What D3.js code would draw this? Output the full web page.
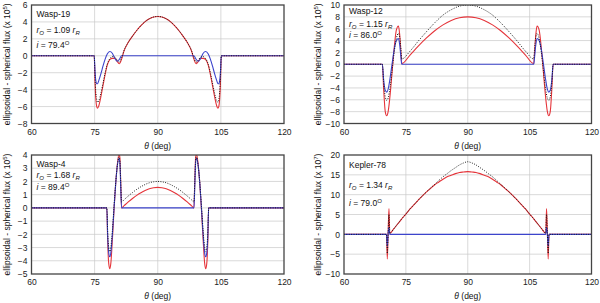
<!DOCTYPE html>
<html>
<head>
<meta charset="utf-8">
<script src="https://cdn.jsdelivr.net/npm/d3@7"></script>
<style>
  body { margin: 0; background: #fff; }
  svg { display: block; font-family: "Liberation Sans", Arial, sans-serif; }
  .grid line { stroke: #c8c8c8; stroke-width: 0.7; }
  .tick-label { font-size: 8.5px; fill: #222; }
</style>
</head>
<body>
<div id="chart"></div>
<script>
// shared x ticks
var xTicks = [60, 75, 90, 105, 120];

// Wasp-19
var theta19 = [60, 74.9, 75.1, 75.3, 75.5, 75.7, 76, 76.5, 77, 77.5, 78, 78.6, 79.2, 79.8, 80.4, 80.9, 81.4, 82, 83, 84, 85, 86, 87, 88, 89, 90,
  91, 92, 93, 94, 95, 96, 97, 98, 98.6, 99.1, 99.6, 100.2, 100.8, 101.4, 102, 102.5, 103, 103.5, 104, 104.3, 104.5, 104.7, 104.9, 105.1, 120];
var red19 = [0, 0, -3.2, -5.2, -6.0, -6.2, -5.9, -4.8, -3.5, -2.2, -1.1, -0.45, -0.3, -0.3, -0.7, -0.94, -0.4, 0.6, 1.59, 2.33, 2.99, 3.56, 4.03, 4.37, 4.58, 4.65,
  4.58, 4.37, 4.03, 3.56, 2.99, 2.33, 1.59, 0.6, -0.4, -0.94, -0.7, -0.3, -0.3, -0.45, -1.1, -2.2, -3.5, -4.8, -5.9, -6.2, -6.0, -5.2, -3.2, 0, 0];
var black19 = [0, 0, -2.6, -4.4, -5.2, -5.5, -5.3, -4.4, -3.2, -2.0, -1.0, -0.35, -0.1, -0.15, -0.55, -0.75, -0.25, 0.65, 1.59, 2.33, 2.99, 3.56, 4.03, 4.37, 4.58, 4.65,
  4.58, 4.37, 4.03, 3.56, 2.99, 2.33, 1.59, 0.65, -0.25, -0.75, -0.55, -0.15, -0.1, -0.35, -1.0, -2.0, -3.2, -4.4, -5.3, -5.5, -5.2, -4.4, -2.6, 0, 0];
var blue19 = [0, 0, -1.9, -3.0, -3.3, -3.3, -2.9, -2.1, -1.2, -0.4, 0.2, 0.5, 0.3, -0.3, -0.65, -0.4, 0, 0, 0, 0, 0, 0, 0, 0, 0, 0,
  0, 0, 0, 0, 0, 0, 0, 0, 0, -0.4, -0.65, -0.3, 0.3, 0.5, 0.2, -0.4, -1.2, -2.1, -2.9, -3.3, -3.3, -3.0, -1.9, 0, 0];
var yTicks19 = [-8, -6, -4, -2, 0, 2, 4, 6];

// Wasp-12
var theta12 = [60, 69.3, 69.6, 70.0, 70.35, 70.7, 71.2, 71.7, 72.2, 72.7, 73.2, 73.5, 73.8, 74.0, 76, 78, 80, 82, 84, 86, 88, 90,
  92, 94, 96, 98, 100, 102, 104, 106.0, 106.2, 106.5, 106.8, 107.3, 107.8, 108.3, 108.8, 109.3, 109.65, 110.0, 110.4, 110.7, 120];
var red12 = [0, 0, -4.0, -8.0, -8.7, -8.0, -5.0, -1.0, 3.0, 5.8, 6.45, 5.0, 2.0, 0.1, 1.56, 3.06, 4.44, 5.66, 6.65, 7.39, 7.85, 8.0,
  7.85, 7.39, 6.65, 5.66, 4.44, 3.06, 1.56, 0.1, 2.0, 5.0, 6.45, 5.8, 3.0, -1.0, -5.0, -8.0, -8.7, -8.0, -4.0, 0, 0];
var black12 = [0, 0, -3.0, -5.5, -6.1, -5.7, -3.8, -0.8, 2.2, 4.4, 5.2, 4.6, 2.6, 0.9, 2.2, 3.9, 5.5, 7.0, 8.3, 9.2, 9.8, 10.0,
  9.8, 9.2, 8.3, 7.0, 5.5, 3.9, 2.2, 0.9, 2.6, 4.6, 5.2, 4.4, 2.2, -0.8, -3.8, -5.7, -6.1, -5.5, -3.0, 0, 0];
var blue12 = [0, 0, -2.5, -4.4, -4.7, -4.2, -2.2, 0.3, 2.6, 4.0, 4.35, 3.3, 1.2, 0, 0, 0, 0, 0, 0, 0, 0, 0,
  0, 0, 0, 0, 0, 0, 0, 0, 1.2, 3.3, 4.35, 4.0, 2.6, 0.3, -2.2, -4.2, -4.7, -4.4, -2.5, 0, 0];
var yTicks12 = [-10, -8, -6, -4, -2, 0, 2, 4, 6, 8, 10];

// Wasp-4
var theta4 = [60, 77.9, 78.1, 78.35, 78.6, 78.85, 79.2, 79.6, 80.0, 80.4, 80.8, 81.0, 81.2, 81.4, 82, 83, 84, 85, 86, 87, 88, 89, 90,
  91, 92, 93, 94, 95, 96, 97, 98, 98.6, 98.8, 99.0, 99.2, 99.6, 100.0, 100.4, 100.8, 101.15, 101.4, 101.65, 101.9, 102.1, 120];
var red4 = [0, 0, -2.5, -4.2, -4.6, -4.2, -2.5, -0.2, 1.8, 3.3, 4.1, 3.8, 2.0, 0, 0.17, 0.45, 0.71, 0.95, 1.15, 1.32, 1.45, 1.52, 1.55,
  1.52, 1.45, 1.32, 1.15, 0.95, 0.71, 0.45, 0.17, 0, 2.0, 3.8, 4.1, 3.3, 1.8, -0.2, -2.5, -4.2, -4.6, -4.2, -2.5, 0, 0];
var black4 = [0, 0, -1.8, -3.0, -3.3, -3.0, -1.8, 0.1, 1.9, 3.2, 3.85, 3.6, 2.0, 0.45, 0.62, 0.9, 1.16, 1.4, 1.6, 1.77, 1.9, 1.97, 2.0,
  1.97, 1.9, 1.77, 1.6, 1.4, 1.16, 0.9, 0.62, 0.45, 2.0, 3.6, 3.85, 3.2, 1.9, 0.1, -1.8, -3.0, -3.3, -3.0, -1.8, 0, 0];
var blue4 = [0, 0, -2.1, -3.4, -3.7, -3.4, -2.1, -0.1, 1.8, 3.2, 3.75, 3.4, 1.6, 0, 0, 0, 0, 0, 0, 0, 0, 0, 0,
  0, 0, 0, 0, 0, 0, 0, 0, 0, 1.6, 3.4, 3.75, 3.2, 1.8, -0.1, -2.1, -3.4, -3.7, -3.4, -2.1, 0, 0];
var yTicks4 = [-5, -4, -3, -2, -1, 0, 1, 2, 3, 4];

// Kepler-78
var theta78 = [60, 70.3, 70.5, 70.7, 70.9, 71.1, 72, 73, 74, 75, 76, 77, 78, 79, 80, 81, 82, 83, 84, 85, 86, 87, 88, 89, 90,
  91, 92, 93, 94, 95, 96, 97, 98, 99, 100, 101, 102, 103, 104, 105, 106, 107, 108, 108.9, 109.1, 109.3, 109.5, 109.7, 120];
var red78 = [0, 0, -6.2, 0.5, 6.5, 0.2, 1.3, 2.6, 3.9, 5.1, 6.4, 7.5, 8.6, 9.7, 10.7, 11.6, 12.5, 13.2, 13.9, 14.5, 14.9, 15.3, 15.6, 15.7, 15.8,
  15.7, 15.6, 15.3, 14.9, 14.5, 13.9, 13.2, 12.5, 11.6, 10.7, 9.7, 8.6, 7.5, 6.4, 5.1, 3.9, 2.6, 1.3, 0.2, 6.5, 0.5, -6.2, 0, 0];
var black78 = [0, 0, -4.8, 0.3, 5.0, 0.3, 1.3, 2.6, 3.9, 5.1, 6.4, 7.5, 8.6, 9.7, 10.7, 11.7, 12.6, 13.6, 14.5, 15.3, 16.1, 16.8, 17.5, 18.0, 18.3,
  18.0, 17.5, 16.8, 16.1, 15.3, 14.5, 13.6, 12.6, 11.7, 10.7, 9.7, 8.6, 7.5, 6.4, 5.1, 3.9, 2.6, 1.3, 0.3, 5.0, 0.3, -4.8, 0, 0];
var blue78 = [0, 0, -3.0, 0.2, 1.8, 0, 0, 0, 0, 0, 0, 0, 0, 0, 0, 0, 0, 0, 0, 0, 0, 0, 0, 0, 0,
  0, 0, 0, 0, 0, 0, 0, 0, 0, 0, 0, 0, 0, 0, 0, 0, 0, 0, 0, 1.8, 0.2, -3.0, 0, 0];
var yTicks78 = [-10, -5, 0, 5, 10, 15, 20];

var names = ["Wasp-19", "Wasp-12", "Wasp-4", "Kepler-78"];
var rValues = ["1.09", "1.15", "1.68", "1.34"];
var iValues = ["79.4", "86.0", "89.4", "79.0"];
var powers = ["5", "5", "5", "7"];

var svg = d3.select("#chart").append("svg")
    .attr("width", 600)
    .attr("height", 303);

// panel layout
var panels = [
  {theta: theta19, red: red19, black: black19, blue: blue19, yTicks: yTicks19, left: 31.5, right: 284, top: 5, bottom: 123.5, labOff: 21.5, textY: [17, 33, 48]},
  {theta: theta12, red: red12, black: black12, blue: blue12, yTicks: yTicks12, left: 344, right: 591.5, top: 5, bottom: 123.5, labOff: 23, textY: [14, 26.5, 38]},
  {theta: theta4, red: red4, black: black4, blue: blue4, yTicks: yTicks4, left: 31.5, right: 284, top: 155, bottom: 274, labOff: 21.5, textY: [166.5, 178, 190]},
  {theta: theta78, red: red78, black: black78, blue: blue78, yTicks: yTicks78, left: 344, right: 591.5, top: 155, bottom: 274, labOff: 23, textY: [168, 188, 206]}
];

panels.forEach(function(p, k) {
    var x = d3.scaleLinear().domain([60, 120]).range([p.left, p.right]);
    var y = d3.scaleLinear().domain(d3.extent(p.yTicks)).range([p.bottom, p.top]);
    var g = svg.append("g");

    //clip to plot area
    g.append("clipPath").attr("id", "clip" + k)
        .append("rect")
        .attr("x", p.left).attr("y", p.top)
        .attr("width", p.right - p.left).attr("height", p.bottom - p.top);

    //grid
    var grid = g.append("g").classed("grid", true);
    grid.selectAll(".gy").data(p.yTicks.slice(1, -1)).enter().append("line")
        .attr("x1", p.left).attr("x2", p.right)
        .attr("y1", d => y(d)).attr("y2", d => y(d));
    grid.selectAll(".gx").data(xTicks.slice(1, -1)).enter().append("line")
        .attr("y1", p.top).attr("y2", p.bottom)
        .attr("x1", d => x(d)).attr("x2", d => x(d));

    //axes with tick labels
    var leftAxis = d3.axisLeft(y).tickValues(p.yTicks).tickSize(0).tickPadding(4);
    var bottomAxis = d3.axisBottom(x).tickValues(xTicks).tickSize(0).tickPadding(5);
    var ga = g.append("g").attr("transform", `translate(${p.left},0)`).call(leftAxis);
    var gb = g.append("g").attr("transform", `translate(0,${p.bottom})`).call(bottomAxis);
    [ga, gb].forEach(function(a) {
        a.select(".domain").remove();
        a.selectAll("text").attr("class", "tick-label").attr("font-family", null).attr("font-size", null);
        a.attr("font-family", null).attr("font-size", null);
    });

    //lines
    var pts = function(vals) { return p.theta.map((t, i) => [t, vals[i]]); };
    var line = d3.line().x(d => x(d[0])).y(d => y(d[1])).curve(d3.curveMonotoneX);
    var lines = g.append("g").attr("clip-path", `url(#clip${k})`);
    lines.append("path").attr("d", line(pts(p.red)))
        .attr("fill", "none").attr("stroke", "#e5343a").attr("stroke-width", 1.1);
    lines.append("path").attr("d", line(pts(p.blue)))
        .attr("fill", "none").attr("stroke", "#3c44cc").attr("stroke-width", 1.1);
    lines.append("path").attr("d", line(pts(p.black)))
        .attr("fill", "none").attr("stroke", "#111").attr("stroke-width", 1)
        .attr("stroke-dasharray", "0.9,1.5");

    //frame
    g.append("rect")
        .attr("x", p.left).attr("y", p.top)
        .attr("width", p.right - p.left).attr("height", p.bottom - p.top)
        .attr("fill", "none").attr("stroke", "#444").attr("stroke-width", 1.3);

    //labels in corner
    var tx = p.left + 5;
    g.append("text").attr("x", tx).attr("y", p.textY[0]).attr("font-size", "8.5px").attr("fill", "#111").text(names[k]);
    var t2 = g.append("text").attr("x", tx).attr("y", p.textY[1]).attr("font-size", "8.5px").attr("fill", "#111");
    t2.append("tspan").style("font-style", "italic").text("r");
    t2.append("tspan").attr("dy", 2).attr("font-size", "6px").style("font-style", "italic").text("O");
    t2.append("tspan").attr("dy", -2).text(" = " + rValues[k] + " ");
    t2.append("tspan").style("font-style", "italic").text("r");
    t2.append("tspan").attr("dy", 2).attr("font-size", "6px").style("font-style", "italic").text("R");
    var t3 = g.append("text").attr("x", tx).attr("y", p.textY[2]).attr("font-size", "8.5px").attr("fill", "#111");
    t3.append("tspan").style("font-style", "italic").text("i");
    t3.append("tspan").text(" = " + iValues[k]);
    t3.append("tspan").attr("dy", -3.5).attr("font-size", "6px").text("O");

    //y axis label
    var yl = g.append("text")
        .attr("transform", `translate(${p.left - p.labOff},${(p.top + p.bottom) / 2}) rotate(-90)`)
        .attr("text-anchor", "middle").attr("font-size", "8.5px").attr("fill", "#111");
    yl.append("tspan").text("ellipsoidal - spherical flux (x 10");
    yl.append("tspan").attr("dy", -3.5).attr("font-size", "6px").text(powers[k]);
    yl.append("tspan").attr("dy", 3.5).text(")");

    //x axis label
    var xl = g.append("text")
        .attr("x", (p.left + p.right) / 2).attr("y", p.bottom + 25)
        .attr("text-anchor", "middle").attr("font-size", "8.5px").attr("fill", "#111");
    xl.append("tspan").style("font-style", "italic").text("θ");
    xl.append("tspan").text(" (deg)");
});
</script>
</body>
</html>
